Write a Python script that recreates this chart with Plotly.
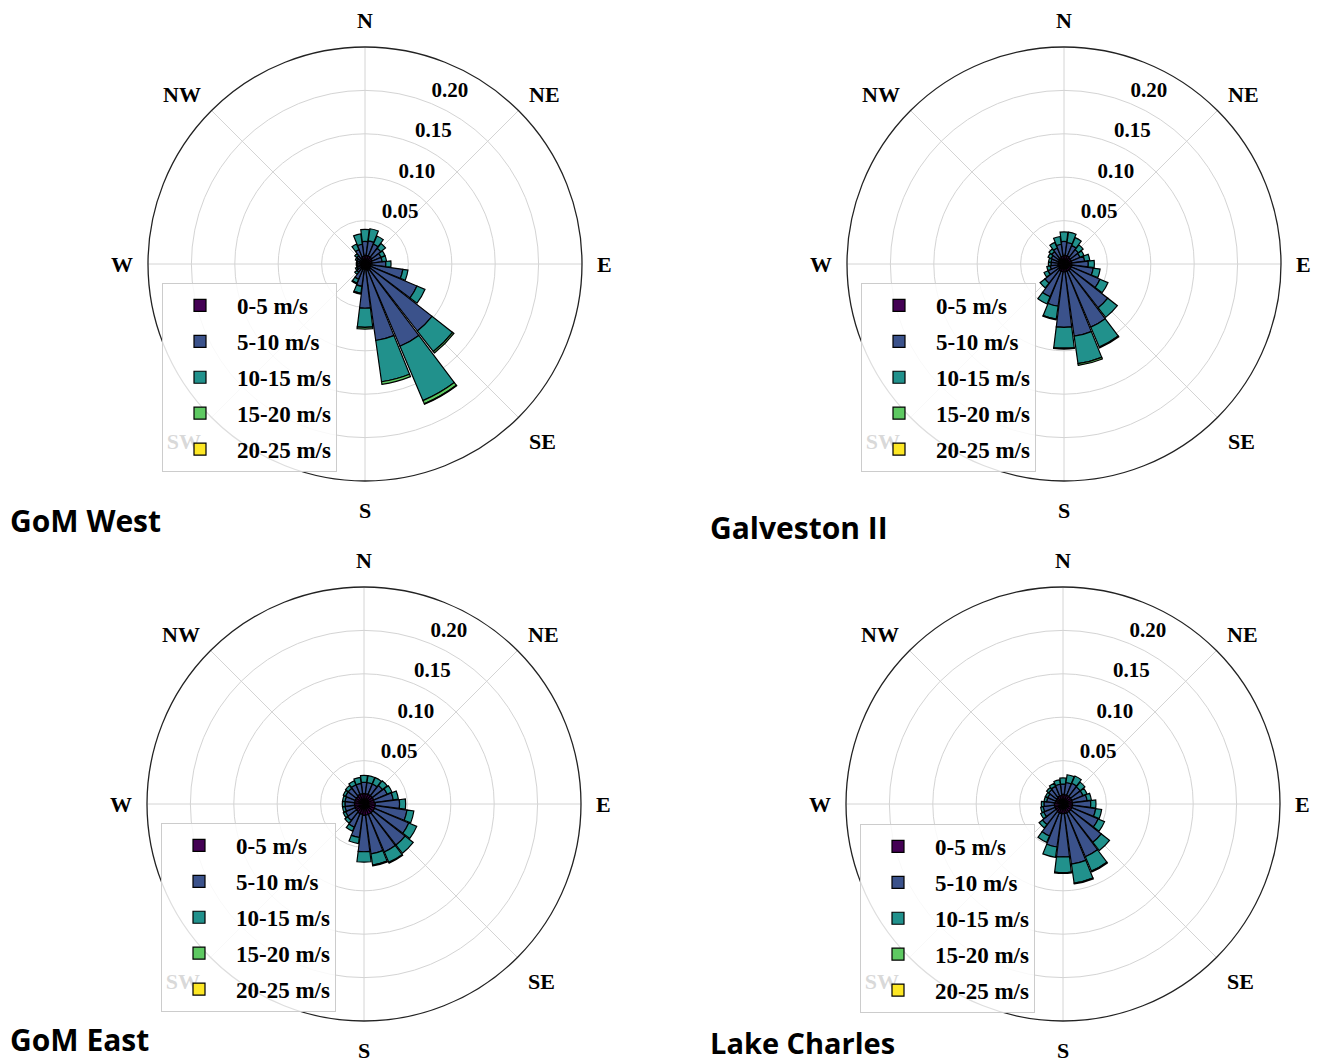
import plotly.graph_objects as go

# ---------------- data ----------------
directions = [0, 15, 30, 45, 60, 75, 90, 105, 120, 135, 150, 165,
              180, 195, 210, 225, 240, 255, 270, 285, 300, 315, 330, 345]
speed_bins = ["0-5 m/s", "5-10 m/s", "10-15 m/s", "15-20 m/s", "20-25 m/s"]
bin_colors = ["#440154", "#3b528b", "#21918c", "#5ec962", "#fde725"]
site_names = ["GoM West", "Galveston II", "GoM East", "Lake Charles"]
compass_vals = [0, 45, 90, 135, 180, 225, 270, 315]
compass_text = ["N", "NE", "E", "SE", "S", "SW", "W", "NW"]
radial_ticks = [0.05, 0.10, 0.15, 0.20]
radial_text = ["0.05", "0.10", "0.15", "0.20"]

# GoM West
gw_0_5 = [0.010, 0.010, 0.010, 0.010, 0.009, 0.008, 0.008, 0.007, 0.007, 0.008, 0.008, 0.007,
          0.006, 0.006, 0.006, 0.005, 0.005, 0.005, 0.005, 0.005, 0.005, 0.006, 0.008, 0.009]
gw_5_10 = [0.016, 0.017, 0.015, 0.013, 0.011, 0.012, 0.016, 0.037, 0.058, 0.090, 0.095, 0.082,
           0.045, 0.020, 0.013, 0.007, 0.005, 0.004, 0.004, 0.004, 0.005, 0.006, 0.010, 0.014]
gw_10_15 = [0.014, 0.014, 0.010, 0.007, 0.005, 0.005, 0.006, 0.006, 0.010, 0.030, 0.068, 0.048,
            0.022, 0.008, 0.005, 0.003, 0.002, 0.001, 0.001, 0.001, 0.002, 0.003, 0.007, 0.012]
gw_15_20 = [0, 0, 0, 0, 0, 0, 0, 0, 0, 0.002, 0.004, 0.003,
            0.002, 0.001, 0.001, 0, 0, 0, 0, 0, 0, 0, 0, 0]
gw_20_25 = [0, 0, 0, 0, 0, 0, 0, 0, 0, 0, 0.0005, 0,
            0, 0, 0, 0, 0, 0, 0, 0, 0, 0, 0, 0]

# Galveston II
gv_0_5 = [0.010, 0.010, 0.010, 0.009, 0.009, 0.009, 0.009, 0.009, 0.009, 0.009, 0.009, 0.009,
          0.009, 0.009, 0.009, 0.008, 0.007, 0.007, 0.007, 0.007, 0.007, 0.008, 0.008, 0.009]
gv_5_10 = [0.016, 0.015, 0.013, 0.012, 0.011, 0.015, 0.019, 0.025, 0.036, 0.055, 0.070, 0.075,
           0.064, 0.040, 0.032, 0.020, 0.013, 0.009, 0.008, 0.008, 0.009, 0.010, 0.012, 0.014]
gv_10_15 = [0.011, 0.012, 0.010, 0.007, 0.005, 0.006, 0.007, 0.008, 0.010, 0.014, 0.025, 0.032,
            0.024, 0.015, 0.009, 0.007, 0.005, 0.004, 0.003, 0.003, 0.004, 0.004, 0.007, 0.009]
gv_15_20 = [0, 0, 0, 0, 0, 0, 0, 0, 0, 0, 0.001, 0.002,
            0.001, 0.001, 0, 0, 0, 0, 0, 0, 0, 0, 0, 0]
gv_20_25 = [0] * 24

# GoM East
ge_0_5 = [0.012, 0.012, 0.012, 0.012, 0.012, 0.012, 0.013, 0.013, 0.013, 0.013, 0.013, 0.013,
          0.013, 0.012, 0.012, 0.011, 0.011, 0.011, 0.011, 0.011, 0.011, 0.011, 0.012, 0.012]
ge_5_10 = [0.013, 0.013, 0.013, 0.015, 0.017, 0.022, 0.028, 0.037, 0.043, 0.047, 0.047, 0.045,
           0.042, 0.027, 0.017, 0.013, 0.012, 0.011, 0.011, 0.011, 0.012, 0.012, 0.012, 0.012]
ge_10_15 = [0.008, 0.008, 0.008, 0.007, 0.006, 0.006, 0.007, 0.008, 0.010, 0.012, 0.013, 0.013,
            0.012, 0.007, 0.005, 0.004, 0.003, 0.003, 0.003, 0.003, 0.003, 0.004, 0.005, 0.007]
ge_15_20 = [0, 0, 0, 0, 0, 0, 0, 0, 0, 0, 0.001, 0.001,
            0, 0, 0, 0, 0, 0, 0, 0, 0, 0, 0, 0]
ge_20_25 = [0] * 24

# Lake Charles
lc_0_5 = [0.011, 0.011, 0.011, 0.011, 0.011, 0.011, 0.011, 0.011, 0.011, 0.011, 0.011, 0.011,
          0.011, 0.011, 0.011, 0.010, 0.010, 0.010, 0.010, 0.009, 0.009, 0.009, 0.010, 0.010]
lc_5_10 = [0.012, 0.014, 0.015, 0.014, 0.014, 0.017, 0.021, 0.027, 0.033, 0.045, 0.055, 0.059,
           0.050, 0.039, 0.029, 0.020, 0.014, 0.013, 0.012, 0.010, 0.010, 0.012, 0.012, 0.013]
lc_10_15 = [0.007, 0.009, 0.009, 0.007, 0.005, 0.005, 0.006, 0.007, 0.008, 0.012, 0.018, 0.022,
            0.018, 0.012, 0.008, 0.005, 0.004, 0.003, 0.003, 0.003, 0.003, 0.003, 0.004, 0.005]
lc_15_20 = [0, 0, 0, 0, 0, 0, 0, 0, 0, 0, 0.001, 0.001,
            0.001, 0, 0, 0, 0, 0, 0, 0, 0, 0, 0, 0]
lc_20_25 = [0] * 24

sites = [
    [gw_0_5, gw_5_10, gw_10_15, gw_15_20, gw_20_25],
    [gv_0_5, gv_5_10, gv_10_15, gv_15_20, gv_20_25],
    [ge_0_5, ge_5_10, ge_10_15, ge_15_20, ge_20_25],
    [lc_0_5, lc_5_10, lc_10_15, lc_15_20, lc_20_25],
]

# ---------------- layout geometry ----------------
# the page body has an 8px margin, so the figure starts at (8, 8)
OFF = 8
W, H = 1333 - OFF, 1063 - OFF
R = 217
centers = [(365, 264), (1064, 264), (364, 804), (1063, 804)]
label_shift = (-10, -21)   # radial tick labels sit a little outward of their circles
legend_tl = [(162, 283), (861, 283), (161, 823), (860, 824)]
title_pos = [(8, 520), (708, 527), (8, 1039), (708, 1042)]
title_size = [30, 30, 30, 29]

serif = "Liberation Serif"
fig = go.Figure()


def dom(cx, cy):
    return dict(x=[(cx - R) / W, (cx + R) / W],
                y=[(H - cy - R) / H, (H - cy + R) / H])


for i, bins in enumerate(sites):
    pkey = "polar" if i == 0 else f"polar{i+1}"
    lkey = "legend" if i == 0 else f"legend{i+1}"
    okey = f"polar{i+5}"
    for b, vals in enumerate(bins):
        fig.add_trace(go.Barpolar(
            r=vals, theta=directions, width=[14] * len(directions),
            name=speed_bins[b],
            marker=dict(color=bin_colors[b], line=dict(color="black", width=1.2)),
            subplot=pkey, legend=lkey, legendgroup=f"g{i}_{b}",
            showlegend=True,
        ))
    cx, cy = centers[i][0] - OFF, centers[i][1] - OFF
    fig.update_layout(**{pkey: dict(
        domain=dom(cx, cy),
        bgcolor="white",
        barmode="stack",
        angularaxis=dict(
            rotation=90, direction="clockwise",
            tickmode="array", tickvals=compass_vals, ticktext=compass_text,
            tickfont=dict(family=serif, size=22, color="black", weight="bold"),
            ticks="outside", ticklen=10, tickcolor="rgba(0,0,0,0)",
            showline=True, linecolor="#222222", linewidth=1.3,
            showgrid=True, gridcolor="#d4d4d4", gridwidth=1,
            layer="above traces",
        ),
        radialaxis=dict(
            range=[0, 0.25], angle=67.5,
            tickmode="array", tickvals=radial_ticks,
            showticklabels=False, ticks="", showline=False,
            showgrid=True, gridcolor="#d4d4d4", gridwidth=1,
            layer="above traces",
        ),
    )})
    # same radial scale, used only to place the radial tick labels
    fig.add_trace(go.Barpolar(r=[], theta=[], subplot=okey, showlegend=False,
                              hoverinfo="skip"))
    fig.update_layout(**{okey: dict(
        domain=dom(cx + label_shift[0], cy + label_shift[1]),
        bgcolor="rgba(0,0,0,0)",
        angularaxis=dict(visible=False, rotation=90, direction="clockwise"),
        radialaxis=dict(
            range=[0, 0.25], angle=67.5, side="clockwise", tickangle=67.5,
            tickmode="array", tickvals=radial_ticks, ticktext=radial_text,
            tickfont=dict(family=serif, size=21, color="black", weight="bold"),
            ticks="", showline=False, showgrid=False,
        ),
    )})
    lx, ly = legend_tl[i][0] - OFF, legend_tl[i][1] - OFF
    fig.update_layout(**{lkey: dict(
        x=lx / W, y=(H - ly) / H, xanchor="left", yanchor="top",
        bgcolor="rgba(255,255,255,0.85)", bordercolor="#cccccc", borderwidth=1,
        font=dict(family=serif, size=23, color="black", weight="bold"),
        tracegroupgap=3, itemwidth=64,
    )})
    tx, ty = title_pos[i][0] - OFF, title_pos[i][1] - OFF
    fig.add_annotation(
        x=tx / W, y=(H - ty) / H, xref="paper", yref="paper",
        xanchor="left", yanchor="middle", showarrow=False,
        text=site_names[i],
        font=dict(family="Open Sans", size=title_size[i], color="black", weight="bold"),
    )

fig.update_layout(
    width=W, height=H, margin=dict(l=0, r=0, t=0, b=0),
    paper_bgcolor="white", plot_bgcolor="white",
    showlegend=True,
)

fig.write_html("out.html")
